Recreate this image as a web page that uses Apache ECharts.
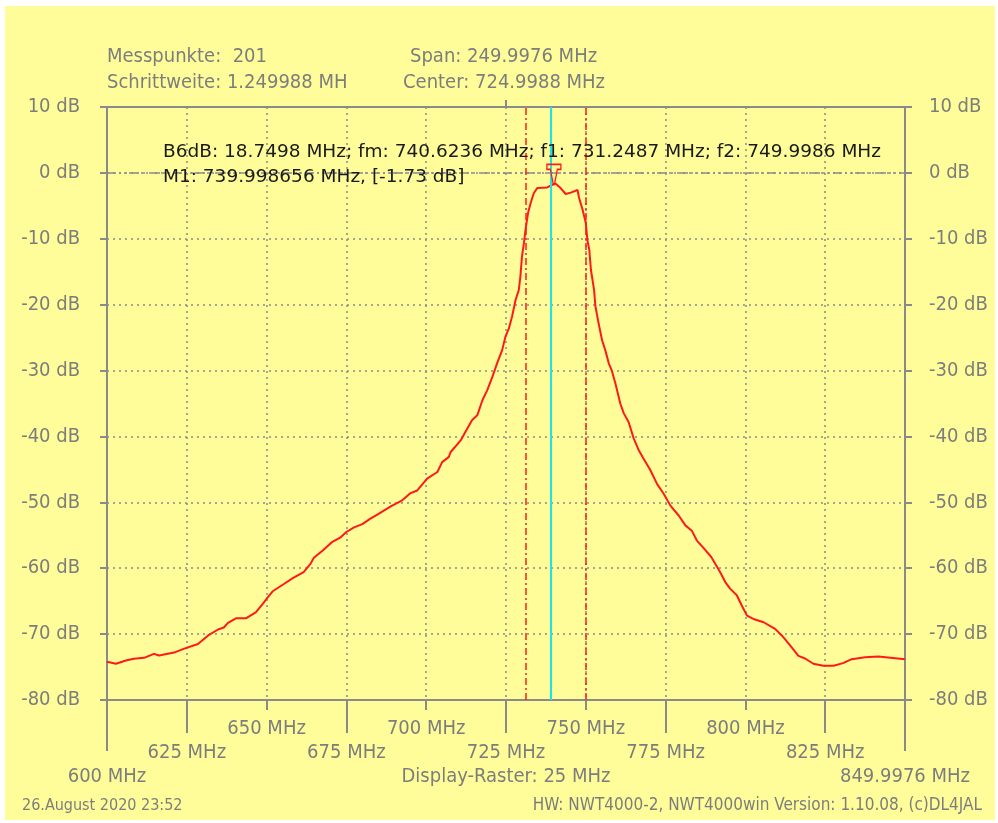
<!DOCTYPE html>
<html lang="de">
<head>
<meta charset="utf-8">
<title>NWT4000 - Filterkurve</title>
<script src="https://cdn.jsdelivr.net/npm/echarts@6/dist/echarts.min.js"></script>
<style>
    html, body { margin: 0; padding: 0; background: #fff; }
    #wrap { position: relative; width: 998px; height: 823px; }
    #paper { position: absolute; left: 5px; top: 6px; width: 990px; height: 814px; background: #FFFD99; }
    #main { position: absolute; left: 0; top: 0; width: 998px; height: 823px; }
</style>
</head>
<body>
<div id="wrap">
    <div id="paper"></div>
    <div id="main"></div>
</div>
<script type="text/javascript">
    // Messkurve
    var freqMHz = [600, 602.8, 605.9, 608.4, 611.6, 614.7, 616.3, 621.0, 624.2, 628.5,
        631.7, 634.8, 636.6, 637.9, 640.4, 643.5, 646.6, 648.8, 650.4, 651.9,
        655.4, 658.2, 661.6, 663.8, 664.8, 667.6, 670.6, 673.2, 675.0, 677.4,
        680.0, 682.4, 685.2, 688.9, 692.5, 695.1, 697.2, 700.3, 703.5, 705.0,
        707.1, 707.6, 710.8, 712.3, 714.4, 716.0, 717.6, 719.1, 720.7, 722.2,
        723.8, 724.8, 725.9, 726.9, 728.0, 729.0, 729.5, 730.0, 730.6, 731.1,
        731.9, 732.7, 733.7, 734.8, 737.9, 739.5, 740.5, 742.1, 743.7, 745.3,
        747.4, 747.9, 749.0, 750.0, 750.5, 751.1, 751.6, 752.6, 753.0, 754.0,
        755.1, 756.1, 757.2, 758.2, 759.3, 760.8, 761.9, 763.4, 765.0, 766.6,
        768.1, 770.2, 772.3, 774.4, 776.5, 779.1, 781.2, 783.2, 784.8, 787.2,
        789.3, 790.5, 792.1, 793.7, 795.2, 797.3, 798.9, 800.5, 802.5, 805.7,
        809.3, 811.4, 814.0, 816.6, 818.7, 821.3, 824.4, 827.6, 830.6, 833.3,
        837.5, 841.6, 842.2, 849.9976];
    var levelDb = [-74.2, -74.5, -74.0, -73.75, -73.6, -73.0, -73.25, -72.8, -72.2, -71.5,
        -70.2, -69.3, -69.0, -68.3, -67.6, -67.6, -66.7, -65.4, -64.4, -63.5,
        -62.4, -61.5, -60.6, -59.3, -58.4, -57.3, -56.0, -55.3, -54.5, -53.8,
        -53.3, -52.5, -51.7, -50.6, -49.7, -48.6, -48.2, -46.4, -45.4, -43.9,
        -43.1, -42.4, -40.6, -39.3, -37.5, -36.8, -34.5, -33.0, -31.0, -28.9,
        -26.9, -24.9, -23.6, -21.8, -19.3, -17.8, -15.8, -12.7, -10.7, -8.7,
        -6.1, -4.6, -3.1, -2.3, -2.2, -1.8, -1.6, -2.3, -3.2, -3.0,
        -2.6, -3.8, -5.6, -7.6, -10.2, -11.7, -14.7, -17.8, -20.2, -22.8,
        -25.4, -26.9, -28.9, -30.1, -32.0, -35.0, -36.5, -37.8, -40.3, -42.1,
        -43.4, -45.1, -47.2, -48.7, -50.5, -52.0, -53.5, -54.3, -55.8, -57.1,
        -58.3, -59.3, -60.6, -62.1, -63.1, -64.1, -65.7, -67.2, -67.7, -68.2,
        -69.2, -70.2, -71.7, -73.3, -73.7, -74.5, -74.8, -74.8, -74.4, -73.8,
        -73.5, -73.4, -73.7, -73.8];

    // Achsen
    var xTicksShort = [650, 700, 750, 800];
    var xTicksMid = [625, 675, 725, 775, 825];
    var xTicksEnd = [600, 849.9976];

    // Marker
    var f1 = 731.2487;
    var f2 = 749.9986;
    var cursorMHz = 739.0;
    var m1 = [739.998656, -1.73];

    var gray = '#8a8a8a';
    var txtGray = '#7d7d7d';
    var axFont = '"DejaVu Sans Condensed", "DejaVu Sans", sans-serif';

    var data = [];
    for (var i = 0; i < freqMHz.length; i++) {
        data.push([freqMHz[i], levelDb[i]]);
    }

    function mhz(v) {
        return (v > 849 ? '849.9976' : v) + ' MHz';
    }

    var xBase = {
        type: 'value', min: 600, max: 849.9976, interval: 25,
        axisLine: { show: false, onZero: false },
        axisTick: { show: false },
        axisLabel: { show: false },
        splitLine: { show: false }
    };
    function xAxisOf(extra) {
        return echarts.util.merge(echarts.util.clone(xBase), extra, true);
    }
    // Beschriftungsreihe: Ticks + Labels mit eigener Länge / Abstand
    function xRow(values, tickLen, margin) {
        return xAxisOf({
            position: 'bottom',
            axisTick: { show: true, customValues: values, length: tickLen, lineStyle: { color: gray, width: 2 } },
            axisLabel: { show: true, customValues: values, margin: margin, formatter: mhz,
                color: txtGray, fontSize: 20, fontFamily: axFont, showMinLabel: true, showMaxLabel: true }
        });
    }

    var myChart = echarts.init(document.getElementById('main'));
    var option = {
        backgroundColor: 'transparent',
        animation: false,
        grid: { left: 107, right: 93, top: 107, bottom: 123, containLabel: false },
        xAxis: [
            xAxisOf({
                position: 'bottom',
                axisLine: { show: true, onZero: false, lineStyle: { color: gray, width: 2 } },
                splitLine: { show: true, lineStyle: { color: gray, width: 1.5, type: [2, 4] } }
            }),
            xRow(xTicksShort, 10, 19),
            xRow(xTicksMid, 33, 43),
            xRow(xTicksEnd, 51, 67),
            xAxisOf({
                position: 'top',
                axisLine: { show: true, onZero: false, lineStyle: { color: gray, width: 2 } },
                axisTick: { show: true, customValues: [725], length: 7, lineStyle: { color: gray, width: 2 } }
            })
        ],
        yAxis: [
            {
                type: 'value', min: -80, max: 10, interval: 10, position: 'left',
                axisLine: { show: true, onZero: false, lineStyle: { color: gray, width: 2 } },
                axisTick: { show: true, length: 7, lineStyle: { color: gray, width: 2 } },
                axisLabel: { margin: 27, formatter: '{value} dB', color: txtGray, fontSize: 20, fontFamily: axFont },
                splitLine: { show: true, lineStyle: { color: gray, width: 1.5, type: [2, 4] } }
            },
            {
                type: 'value', min: -80, max: 10, interval: 10, position: 'right',
                axisLine: { show: true, onZero: false, lineStyle: { color: gray, width: 2 } },
                axisTick: { show: true, length: 7, lineStyle: { color: gray, width: 2 } },
                axisLabel: { margin: 24, formatter: '{value} dB', color: txtGray, fontSize: 20, fontFamily: axFont },
                splitLine: { show: false }
            }
        ],
        series: [{
            name: 'S21',
            type: 'line',
            xAxisIndex: 0,
            yAxisIndex: 0,
            data: data,
            showSymbol: false,
            lineStyle: { color: '#ff1a1a', width: 2 },
            markLine: {
                silent: true,
                symbol: 'none',
                label: { show: false },
                data: [
                    { yAxis: 0, lineStyle: { color: gray, width: 1.5, type: [9, 3, 2, 3, 2, 3] } },
                    { xAxis: f1, lineStyle: { color: '#ff1a1a', width: 1.5, type: [7, 3, 2, 3] } },
                    { xAxis: f2, lineStyle: { color: '#ff1a1a', width: 1.5, type: [7, 3, 2, 3] } },
                    { xAxis: cursorMHz, lineStyle: { color: '#19e6e6', width: 2, type: 'solid' } }
                ]
            },
            markPoint: {
                silent: true,
                symbol: 'path://M0,0 L14,0 L14,5 L10.5,5 L7.6,20 L6.4,20 L3.5,5 L0,5 Z',
                symbolSize: [14, 20],
                symbolOffset: [0, '-50%'],
                itemStyle: { color: 'rgba(0,0,0,0)', borderColor: '#ff1a1a', borderWidth: 1.5 },
                label: { show: false },
                data: [{ coord: m1 }]
            }
        }],
        graphic: [
            { type: 'text', x: 107, y: 57, style: { text: 'Messpunkte:  201', fill: txtGray, font: '20px ' + axFont, textVerticalAlign: 'middle' } },
            { type: 'text', x: 107, y: 83, style: { text: 'Schrittweite: 1.249988 MH', fill: txtGray, font: '20px ' + axFont, textVerticalAlign: 'middle' } },
            { type: 'text', x: 410, y: 57, style: { text: 'Span: 249.9976 MHz', fill: txtGray, font: '20px ' + axFont, textVerticalAlign: 'middle' } },
            { type: 'text', x: 403, y: 83, style: { text: 'Center: 724.9988 MHz', fill: txtGray, font: '20px ' + axFont, textVerticalAlign: 'middle' } },
            { type: 'text', x: 163, y: 152, z: 100,
                style: { text: 'B6dB: 18.7498 MHz; fm: 740.6236 MHz; f1: 731.2487 MHz; f2: 749.9986 MHz', fill: '#1a1a1a', font: '18.5px "DejaVu Sans", sans-serif', textVerticalAlign: 'middle' } },
            { type: 'text', x: 163, y: 177, z: 100,
                style: { text: 'M1: 739.998656 MHz, [-1.73 dB]', fill: '#1a1a1a', font: '18.5px "DejaVu Sans", sans-serif', textVerticalAlign: 'middle' } },
            { type: 'text', x: 506, y: 777, style: { text: 'Display-Raster: 25 MHz', fill: txtGray, font: '20px ' + axFont, textAlign: 'center', textVerticalAlign: 'middle' } },
            { type: 'text', x: 22, y: 806, style: { text: '26.August 2020 23:52', fill: txtGray, font: '16px ' + axFont, textVerticalAlign: 'middle' } },
            { type: 'text', x: 982, y: 806, style: { text: 'HW: NWT4000-2, NWT4000win Version: 1.10.08, (c)DL4JAL', fill: txtGray, font: '17px ' + axFont, textAlign: 'right', textVerticalAlign: 'middle' } }
        ]
    };
    myChart.setOption(option);
</script>
</body>
</html>
